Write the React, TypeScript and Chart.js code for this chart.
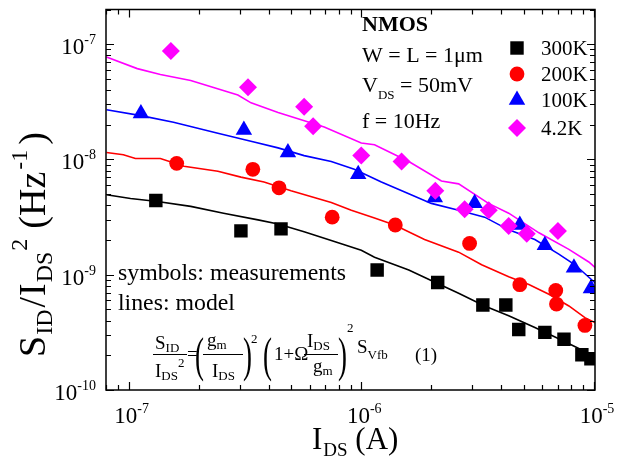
import React, { useEffect, useRef } from 'react';
import { Chart, registerables } from 'chart.js';

Chart.register(...registerables);

// ---------- data ----------
const seriesLabels = ['300K', '200K', '100K', '4.2K'];
const seriesColors = ['#000000', '#ff0000', '#0000ff', '#ff00ff'];
const seriesMarkers = ['rect', 'circle', 'triangle', 'rectRot'];
const markerRadius = [9.5, 7.4, 9.5, 9];

// measurements (symbols)
const meas300X = [1.31e-7, 3.04e-7, 4.52e-7, 1.17e-6, 2.13e-6, 3.33e-6, 4.18e-6, 4.75e-6, 6.15e-6, 7.43e-6, 8.87e-6, 9.7e-6];
const meas300Y = [4.4e-9, 2.4e-9, 2.5e-9, 1.1e-9, 8.55e-10, 5.46e-10, 5.46e-10, 3.35e-10, 3.16e-10, 2.76e-10, 2.02e-10, 1.87e-10];
const meas200X = [1.61e-7, 3.42e-7, 4.43e-7, 7.5e-7, 1.4e-6, 2.92e-6, 4.8e-6, 6.85e-6, 6.9e-6, 9.14e-6];
const meas200Y = [9.25e-9, 8.22e-9, 5.68e-9, 3.16e-9, 2.7e-9, 1.87e-9, 8.2e-10, 7.3e-10, 5.57e-10, 3.63e-10];
const meas100X = [1.13e-7, 3.13e-7, 4.84e-7, 9.7e-7, 2.07e-6, 3.07e-6, 4.8e-6, 6.15e-6, 8.2e-6, 9.7e-6];
const meas100Y = [2.5e-8, 1.8e-8, 1.15e-8, 7.46e-9, 4.67e-9, 4.16e-9, 2.7e-9, 1.8e-9, 1.15e-9, 7.6e-10];
const meas4X = [1.52e-7, 3.26e-7, 5.68e-7, 6.21e-7, 1.0e-6, 1.49e-6, 2.08e-6, 2.78e-6, 3.53e-6, 4.3e-6, 5.14e-6, 7.0e-6];
const meas4Y = [8.72e-8, 4.24e-8, 2.87e-8, 1.94e-8, 1.08e-8, 9.62e-9, 5.36e-9, 3.7e-9, 3.63e-9, 2.65e-9, 2.27e-9, 2.4e-9];

// model (lines)
const model300X = [8.04e-8, 1.02e-7, 1.33e-7, 1.85e-7, 2.56e-7, 3.6e-7, 4.39e-7, 5.68e-7, 7.43e-7, 1.0e-6, 1.14e-6, 1.6e-6, 2.04e-6, 2.62e-6, 3.39e-6, 4.3e-6, 5.57e-6, 7.28e-6, 8.87e-6, 1.03e-5];
const model300Y = [4.95e-9, 4.58e-9, 4.32e-9, 3.92e-9, 3.42e-9, 2.99e-9, 2.76e-9, 2.36e-9, 1.98e-9, 1.63e-9, 1.42e-9, 1.1e-9, 8.72e-10, 6.9e-10, 5.36e-10, 4.41e-10, 3.48e-10, 2.7e-10, 2.22e-10, 1.91e-10];
const model200X = [8.04e-8, 9.5e-8, 1.07e-7, 1.37e-7, 1.73e-7, 2.42e-7, 3.04e-7, 3.82e-7, 4.99e-7, 7.43e-7, 9.06e-7, 1.14e-6, 1.39e-6, 1.87e-6, 2.62e-6, 3.29e-6, 4.3e-6, 5.25e-6, 6.4e-6, 7.8e-6, 9.14e-6, 1.03e-5];
const model200Y = [1.15e-8, 1.1e-8, 1.02e-8, 1.02e-8, 8.72e-9, 7.91e-9, 7.03e-9, 6.38e-9, 5.36e-9, 4.24e-9, 3.62e-9, 3.1e-9, 2.7e-9, 2.02e-9, 1.57e-9, 1.22e-9, 9.6e-10, 8.22e-10, 6.77e-10, 5.36e-10, 4.24e-10, 3.77e-10];
const model100X = [8.04e-8, 1.13e-7, 1.56e-7, 2.42e-7, 3.46e-7, 4.39e-7, 5.68e-7, 7.43e-7, 9.33e-7, 1.22e-6, 1.6e-6, 2.0e-6, 2.62e-6, 3.39e-6, 4.3e-6, 5.57e-6, 7.06e-6, 8.28e-6, 1.03e-5];
const model100Y = [2.7e-8, 2.4e-8, 2.1e-8, 1.69e-8, 1.42e-8, 1.26e-8, 1.08e-8, 9.6e-9, 8.22e-9, 6.38e-9, 5.05e-9, 4.16e-9, 3.62e-9, 3.16e-9, 2.45e-9, 2.02e-9, 1.51e-9, 1.22e-9, 8.22e-10];
const model4X = [8.04e-8, 1.09e-7, 1.37e-7, 1.85e-7, 2.95e-7, 3.36e-7, 4.39e-7, 6.93e-7, 1.0e-6, 1.14e-6, 1.6e-6, 2.21e-6, 2.62e-6, 3.52e-6, 4.3e-6, 5.8e-6, 7.8e-6, 9.5e-6, 1.03e-5];
const model4Y = [7.76e-8, 6.14e-8, 5.46e-8, 4.85e-8, 3.62e-8, 3.1e-8, 2.55e-8, 1.91e-8, 1.39e-8, 1.34e-8, 9.6e-9, 6.5e-9, 6.14e-9, 4.16e-9, 3.42e-9, 2.31e-9, 1.66e-9, 1.29e-9, 1.12e-9];

const xMajorTicks = [1e-7, 1e-6, 1e-5];
const yMajorTicks = [1e-10, 1e-9, 1e-8, 1e-7];
const xTickLabels = ['-7', '-6', '-5'];
const yTickLabels = ['-10', '-9', '-8', '-7'];

const xMin = 8e-8;
const xMax = 1.01e-5;
const yMin = 1e-10;
const yMax = 2e-7;

const measX = [meas300X, meas200X, meas100X, meas4X];
const measY = [meas300Y, meas200Y, meas100Y, meas4Y];
const modelX = [model300X, model200X, model100X, model4X];
const modelY = [model300Y, model200Y, model100Y, model4Y];

const FONT = '"Liberation Serif", "Times New Roman", serif';

const zip = (xs: number[], ys: number[]) => xs.map((x, i) => ({ x, y: ys[i] }));

// [text, font size, baseline shift, bold, gap after]
type Seg = [string, number, number, boolean?, number?];

function drawSegs(ctx: CanvasRenderingContext2D, segs: Seg[], x: number, y: number) {
  let cx = x;
  for (const [t, size, dy, bold, gap] of segs) {
    ctx.font = `${bold ? 'bold ' : ''}${size}px ${FONT}`;
    ctx.fillText(t, cx, y + dy);
    cx += ctx.measureText(t).width + (gap || 0);
  }
  return cx - x;
}
function segsWidth(ctx: CanvasRenderingContext2D, segs: Seg[]) {
  let w = 0;
  for (const [t, size, , bold, gap] of segs) {
    ctx.font = `${bold ? 'bold ' : ''}${size}px ${FONT}`;
    w += ctx.measureText(t).width + (gap || 0);
  }
  return w;
}

function drawMarker(ctx: CanvasRenderingContext2D, style: string, x: number, y: number, r: number, color: string) {
  ctx.fillStyle = color;
  ctx.beginPath();
  if (style === 'rect') {
    const s = r * Math.SQRT1_2;
    ctx.rect(x - s, y - s, 2 * s, 2 * s);
  } else if (style === 'circle') {
    ctx.arc(x, y, r, 0, Math.PI * 2);
  } else if (style === 'triangle') {
    let a = 0;
    ctx.moveTo(x + Math.sin(a) * r, y - Math.cos(a) * r);
    a += (2 * Math.PI) / 3;
    ctx.lineTo(x + Math.sin(a) * r, y - Math.cos(a) * r);
    a += (2 * Math.PI) / 3;
    ctx.lineTo(x + Math.sin(a) * r, y - Math.cos(a) * r);
    ctx.closePath();
  } else {
    ctx.moveTo(x - r, y);
    ctx.lineTo(x, y - r);
    ctx.lineTo(x + r, y);
    ctx.lineTo(x, y + r);
    ctx.closePath();
  }
  ctx.fill();
}

function bigParen(ctx: CanvasRenderingContext2D, ch: string, x: number, yTop: number, yBot: number) {
  ctx.save();
  const h = yBot - yTop;
  const size = h / 0.9;
  ctx.font = `${size}px ${FONT}`;
  ctx.translate(x, yBot - size * 0.22);
  ctx.scale(0.55, 1);
  ctx.fillText(ch, 0, 0);
  ctx.restore();
}

const framePlugin = {
  id: 'frameAndText',
  afterDraw(chart: any) {
    const ctx: CanvasRenderingContext2D = chart.ctx;
    const { left, right, top, bottom } = chart.chartArea;
    const xs = chart.scales.x;
    const ys = chart.scales.y;
    ctx.save();
    ctx.strokeStyle = '#000';
    ctx.fillStyle = '#000';
    ctx.lineWidth = 1.5;
    ctx.strokeRect(left, top, right - left, bottom - top);

    // ticks
    ctx.lineWidth = 1.2;
    ctx.beginPath();
    for (let e = -8; e <= -5; e++) {
      for (let m = 1; m <= 9; m++) {
        const v = m * Math.pow(10, e);
        if (v < xMin * 0.999 || v > xMax) continue;
        const px = Math.round(xs.getPixelForValue(v)) + 0.5;
        const len = m === 1 ? 8 : 5;
        ctx.moveTo(px, bottom);
        ctx.lineTo(px, bottom - len);
        ctx.moveTo(px, top);
        ctx.lineTo(px, top + len);
      }
    }
    for (let e = -10; e <= -7; e++) {
      for (let m = 1; m <= 9; m++) {
        const v = m * Math.pow(10, e);
        if (v < yMin || v > yMax) continue;
        const py = Math.round(ys.getPixelForValue(v)) + 0.5;
        const len = m === 1 ? 8 : 5;
        ctx.moveTo(left, py);
        ctx.lineTo(left + len, py);
        ctx.moveTo(right, py);
        ctx.lineTo(right - len, py);
      }
    }
    ctx.stroke();

    // tick labels
    ctx.textBaseline = 'alphabetic';
    ctx.textAlign = 'left';
    xMajorTicks.forEach((v, i) => {
      const px = xs.getPixelForValue(v);
      const segs: Seg[] = [['10', 23, 0], [xTickLabels[i], 14, -10]];
      const w = segsWidth(ctx, segs);
      drawSegs(ctx, segs, px - w / 2 + 3, bottom + 33);
    });
    yMajorTicks.forEach((v, i) => {
      const py = ys.getPixelForValue(v);
      const segs: Seg[] = [['10', 23, 0], [yTickLabels[i], 14, -10]];
      const w = segsWidth(ctx, segs);
      drawSegs(ctx, segs, 96 - w, py + 10);
    });

    // x title
    drawSegs(ctx, [['I', 31, 0, false, 1], ['DS', 19, 7, false, 0], [' (A)', 31, 0]], 312, 449);

    // y title (rotated)
    ctx.save();
    ctx.translate(45, 357);
    ctx.rotate(-Math.PI / 2);
    drawSegs(ctx, [
      ['S', 38, 0, false, 1],
      ['ID', 24, 7, false, 2],
      ['/', 38, 0, false, 1],
      ['I', 38, 0, false, 1],
      ['DS', 24, 7, false, 1],
      ['2', 24, -18, false, 10],
      ['(Hz', 38, 0, false, 2],
      ['-1', 24, -18, false, 5],
      [')', 38, 0],
    ], 0, 0);
    ctx.restore();

    // annotations
    drawSegs(ctx, [['NMOS', 22, 0, true]], 362, 31);
    drawSegs(ctx, [['W = L = 1\u03bcm', 22, 0]], 362, 62);
    drawSegs(ctx, [['V', 22, 0], ['DS', 13, 7], [' = 50mV', 22, 0]], 362, 92);
    drawSegs(ctx, [['f = 10Hz', 22, 0]], 362, 128);

    // legend
    const legY = [48, 74, 100, 128];
    seriesLabels.forEach((lab, i) => {
      drawMarker(ctx, seriesMarkers[i], 517, legY[i], markerRadius[i], seriesColors[i]);
      ctx.fillStyle = '#000';
      drawSegs(ctx, [[lab, 21, 0]], 541, legY[i] + 7);
    });

    ctx.fillStyle = '#000';
    drawSegs(ctx, [['symbols: measurements', 23.8, 0]], 118, 280);
    drawSegs(ctx, [['lines: model', 23.8, 0]], 118, 310);

    // equation
    const fs = 19;
    const ss = 13;
    drawSegs(ctx, [['S', fs, 0], ['ID', ss, 3]], 155, 349);
    ctx.lineWidth = 1;
    ctx.beginPath();
    ctx.moveTo(153, 354.5); ctx.lineTo(187, 354.5);
    ctx.moveTo(203, 354.5); ctx.lineTo(243, 354.5);
    ctx.moveTo(304, 354.5); ctx.lineTo(338, 354.5);
    ctx.stroke();
    drawSegs(ctx, [['I', fs, 0], ['DS', ss, 3], ['2', ss, -10]], 155, 377);
    drawSegs(ctx, [['=', fs, 0]], 187, 360);
    bigParen(ctx, '(', 195, 338, 382);
    drawSegs(ctx, [['g', fs, 0], ['m', ss, 3]], 207, 346);
    drawSegs(ctx, [['I', fs, 0], ['DS', ss, 3]], 212, 377);
    bigParen(ctx, ')', 243, 338, 382);
    drawSegs(ctx, [['2', ss, 0]], 251, 343);
    bigParen(ctx, '(', 263, 338, 382);
    drawSegs(ctx, [['1+\u03a9', fs, 0]], 274, 360);
    drawSegs(ctx, [['I', fs, 0], ['DS', ss, 3]], 307, 347);
    drawSegs(ctx, [['g', fs, 0], ['m', ss, 3]], 313, 372);
    bigParen(ctx, ')', 338, 338, 382);
    drawSegs(ctx, [['2', ss, 0]], 347, 332);
    drawSegs(ctx, [['S', fs, 0], ['Vfb', ss, 6]], 357, 353);
    drawSegs(ctx, [['(1)', fs, 0]], 415, 361);

    ctx.restore();
  },
};

export default function App() {
  const ref = useRef<HTMLCanvasElement | null>(null);
  useEffect(() => {
    document.body.style.margin = '0';
    const canvas = ref.current;
    if (!canvas) return;
    const lineSets = seriesLabels.map((lab, i) => ({
      label: lab + ' model',
      data: zip(modelX[i], modelY[i]),
      showLine: true,
      borderColor: seriesColors[i],
      backgroundColor: seriesColors[i],
      borderWidth: 1.6,
      pointRadius: 0,
      tension: 0,
      order: 10,
    }));
    const markSets = seriesLabels.map((lab, i) => ({
      label: lab,
      data: zip(measX[i], measY[i]),
      showLine: false,
      backgroundColor: seriesColors[i],
      borderColor: seriesColors[i],
      pointBackgroundColor: seriesColors[i],
      pointBorderWidth: 0,
      borderWidth: 0,
      pointStyle: seriesMarkers[i],
      pointRadius: markerRadius[i],
      order: 5 - i,
    }));
    const chart = new Chart(canvas, {
      type: 'scatter',
      data: { datasets: [...lineSets, ...markSets] as any },
      options: {
        animation: false,
        responsive: false,
        devicePixelRatio: 1,
        layout: { padding: { left: 106, right: 40, top: 3, bottom: 73 } },
        plugins: { legend: { display: false }, tooltip: { enabled: false } },
        scales: {
          x: { type: 'logarithmic', min: xMin, max: xMax, display: false },
          y: { type: 'logarithmic', min: yMin, max: yMax, display: false },
        },
      },
      plugins: [framePlugin],
    });
    return () => chart.destroy();
  }, []);
  return (
    <div style={{ position: 'fixed', left: 0, top: 0, width: 635, height: 463, background: '#fff' }}>
      <canvas ref={ref} width={635} height={463} />
    </div>
  );
}
